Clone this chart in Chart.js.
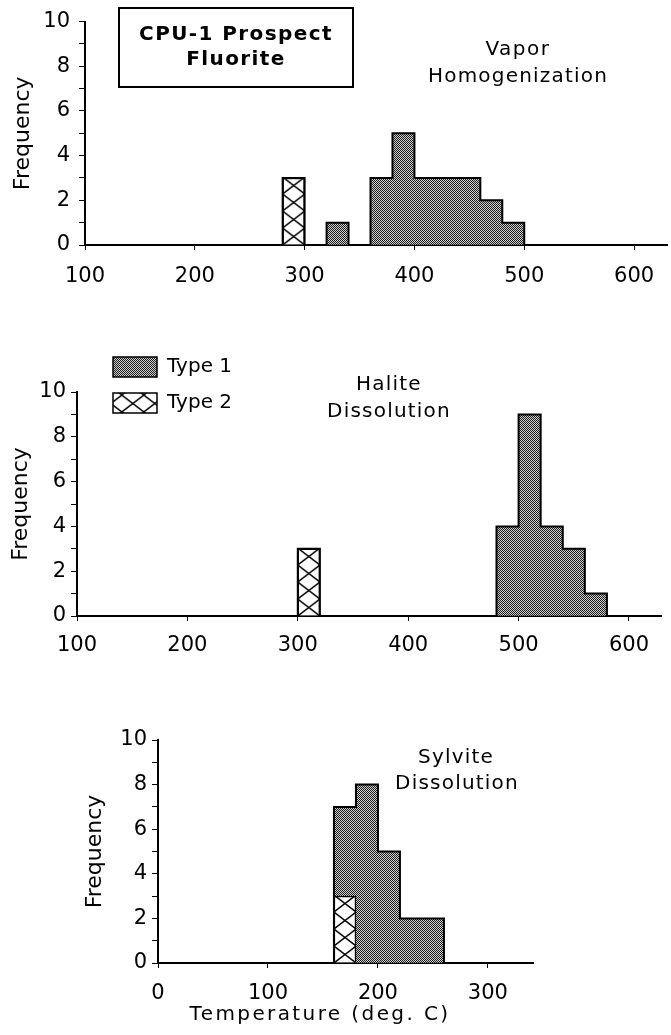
<!DOCTYPE html>
<html><head><meta charset="utf-8">
<script src="https://cdn.jsdelivr.net/npm/chart.js@4.4.1/dist/chart.umd.min.js"></script>
<style>
html,body{margin:0;padding:0;background:#fff;}
#wrap{position:relative;width:671px;height:1035px;overflow:hidden;}
.c{position:absolute;left:0;width:671px;}
</style></head><body>
<div id="wrap">
<div class="c" style="top:0;height:300px"><canvas id="c1" width="671" height="300"></canvas></div>
<div class="c" style="top:300px;height:380px"><canvas id="c2" width="671" height="380"></canvas></div>
<div class="c" style="top:680px;height:355px"><canvas id="c3" width="671" height="355"></canvas></div>
</div>
<script>
// ---------- data ----------
const BIN_WIDTH = 20;
const FREQ_TICK_LABELS = [0, 2, 4, 6, 8, 10];
const SERIES_NAMES = ['Type 1', 'Type 2'];

// Vapor homogenization (bin start temperature, frequency)
const vaporType1Bins = [320, 360, 380, 400, 420, 440, 460, 480];
const vaporType1Freq = [1, 3, 5, 3, 3, 3, 2, 1];
const vaporType2Bins = [280];
const vaporType2Freq = [3];

// Halite dissolution
const haliteType1Bins = [480, 500, 520, 540, 560];
const haliteType1Freq = [4, 9, 4, 3, 1];
const haliteType2Bins = [300];
const haliteType2Freq = [3];

// Sylvite dissolution
const sylviteType1Bins = [160, 180, 200, 220, 240];
const sylviteType1Freq = [4, 8, 5, 2, 2];
const sylviteType2Bins = [160];
const sylviteType2Freq = [3];

// ---------- helpers ----------
Chart.defaults.font.family = "'DejaVu Sans', sans-serif";
Chart.defaults.color = '#000';

function makeStipple(ctx) {
  const c = document.createElement('canvas'); c.width = 4; c.height = 4;
  const g = c.getContext('2d');
  g.fillStyle = '#cfcfcf'; g.fillRect(0, 0, 4, 4);
  g.fillStyle = '#1e1e1e';
  for (let y = 0; y < 4; y++) for (let x = 0; x < 4; x++) if ((x + y) % 2 === 0) g.fillRect(x, y, 1, 1);
  return ctx.createPattern(c, 'repeat');
}
function makeHatch(ctx) {
  const w = 22, h = 17;
  const c = document.createElement('canvas'); c.width = w; c.height = h;
  const g = c.getContext('2d');
  g.fillStyle = '#fff'; g.fillRect(0, 0, w, h);
  g.strokeStyle = '#000'; g.lineWidth = 1.4;
  g.beginPath(); g.moveTo(0, 0); g.lineTo(w, h); g.moveTo(w, 0); g.lineTo(0, h); g.stroke();
  return ctx.createPattern(c, 'repeat');
}
function toPoints(bins, freq) { return bins.map((b, i) => ({ x: b + BIN_WIDTH / 2, y: freq[i] })); }
function totals(binsA, freqA, binsB, freqB) {
  const m = new Map();
  binsA.forEach((b, i) => m.set(b, (m.get(b) || 0) + freqA[i]));
  binsB.forEach((b, i) => m.set(b, (m.get(b) || 0) + freqB[i]));
  return [...m.entries()].sort((a, b) => a[0] - b[0]);
}
function outline(entries) {
  const pts = []; let prevEnd = null, prevH = 0;
  for (const [s, h] of entries) {
    if (prevEnd !== s) {
      if (prevEnd !== null) pts.push({ x: prevEnd, y: prevH }, { x: prevEnd, y: 0 });
      pts.push({ x: s, y: 0 });
    } else {
      pts.push({ x: s, y: prevH });
    }
    pts.push({ x: s, y: h });
    prevEnd = s + BIN_WIDTH; prevH = h;
  }
  pts.push({ x: prevEnd, y: prevH }, { x: prevEnd, y: 0 });
  return pts;
}

const annotationPlugin = {
  id: 'annot',
  afterDraw(chart, args, opts) {
    const ctx = chart.ctx;
    ctx.save();
    (opts.boxes || []).forEach(b => { ctx.lineWidth = 2; ctx.strokeStyle = '#000'; ctx.strokeRect(b.x, b.y, b.w, b.h); });
    (opts.texts || []).forEach(t => {
      ctx.font = t.font; ctx.fillStyle = '#000'; ctx.textAlign = 'center'; ctx.textBaseline = 'alphabetic';
      ctx.letterSpacing = t.ls || '0px';
      ctx.fillText(t.text, t.x, t.y);
    });
    ctx.letterSpacing = '0px';
    ctx.restore();
  }
};
const layoutPlugin = {
  id: 'tweak',
  afterLayout(chart, args, opts) {
    const xs = chart.scales.x, ys = chart.scales.y;
    if (opts.hatch && opts.hatchBin !== undefined) {
      opts.hatch.setTransform(new DOMMatrix([1, 0, 0, 1, xs.getPixelForValue(opts.hatchBin), ys.getPixelForValue(0)]));
    }
    if (opts.legendPos && chart.legend) {
      const l = chart.legend; const w = l.width, h = l.height;
      l.left = opts.legendPos.x; l.top = opts.legendPos.y;
      l.right = l.left + w; l.bottom = l.top + h;
    }
  }
};

function histChart(id, c) {
  const canvas = document.getElementById(id);
  const ctx = canvas.getContext('2d');
  const stipple = makeStipple(ctx), hatch = makeHatch(ctx);
  const env = outline(totals(c.t1Bins, c.t1Freq, c.t2Bins, c.t2Freq));
  return new Chart(ctx, {
    type: 'bar',
    data: {
      datasets: [
        { type: 'bar', label: SERIES_NAMES[0], data: toPoints(c.t1Bins, c.t1Freq), backgroundColor: stipple,
          borderWidth: 0, grouped: false, stack: 'hist', barPercentage: 1, categoryPercentage: 1, order: 1 },
        { type: 'bar', label: SERIES_NAMES[1], data: toPoints(c.t2Bins, c.t2Freq), backgroundColor: hatch,
          borderColor: '#000', borderWidth: 1.5, grouped: false, stack: 'hist', barPercentage: 1, categoryPercentage: 1, order: 0 },
        { type: 'line', label: 'outline', data: env, borderColor: '#000', borderWidth: 2, pointRadius: 0,
          fill: false, tension: 0, order: -1 }
      ]
    },
    options: {
      responsive: false, animation: false, devicePixelRatio: 1,
      layout: { padding: c.pad },
      plugins: {
        tooltip: { enabled: false },
        title: { display: false },
        legend: {
          display: !!c.legend, position: 'chartArea', align: 'start',
          labels: {
            boxWidth: 44, boxHeight: 20, padding: 16, color: '#000',
            font: { size: 20, family: "'DejaVu Sans', sans-serif" },
            generateLabels(chart) {
              const items = Chart.defaults.plugins.legend.labels.generateLabels(chart);
              return items.filter(i => i.datasetIndex < 2).sort((a, b) => a.datasetIndex - b.datasetIndex)
                .map(i => Object.assign(i, { lineWidth: 1.5, strokeStyle: '#000', fontColor: '#000' }));
            }
          }
        },
        annot: { texts: c.texts, boxes: c.boxes || [] },
        tweak: { hatch: hatch, hatchBin: c.t2Bins[0], legendPos: c.legend }
      },
      scales: {
        x: {
          type: 'linear', min: c.xMin, max: c.xMax, offset: false,
          ticks: { stepSize: 100, includeBounds: false, padding: c.xPad, maxRotation: 0, color: '#000',
                   font: { size: 21 } },
          grid: { offset: false, drawOnChartArea: false, drawTicks: true, tickLength: 5, color: '#000' },
          border: { display: true, color: '#000', width: 2 },
          afterFit(s) { s.height = 40; }
        },
        y: {
          min: 0, max: 10,
          ticks: { stepSize: 1, autoSkip: false, padding: c.yPad, color: '#000', font: { size: 21 },
                   callback: v => FREQ_TICK_LABELS.includes(v) ? String(v) : '' },
          grid: { drawOnChartArea: false, drawTicks: true, tickLength: 6, color: '#000' },
          border: { display: true, color: '#000', width: 2 },
          title: { display: true, text: 'Frequency', color: '#000',
                   font: { size: 22, lineHeight: 1.2 }, padding: { top: c.titlePad, bottom: 0 } },
          afterFit(s) { s.width = c.yWidth; }
        }
      }
    },
    plugins: [annotationPlugin, layoutPlugin]
  });
}

histChart('c1', {
  t1Bins: vaporType1Bins, t1Freq: vaporType1Freq, t2Bins: vaporType2Bins, t2Freq: vaporType2Freq,
  xMin: 100, xMax: 630, pad: { left: 0, right: 4, top: 18, bottom: 15 }, yWidth: 85, yPad: 9, xPad: 14, titlePad: 10,
  boxes: [{ x: 119, y: 8, w: 234, h: 79 }],
  texts: [
    { text: 'CPU-1 Prospect', x: 236, y: 40, font: "bold 20px 'DejaVu Sans'", ls: '1.4px' },
    { text: 'Fluorite', x: 236, y: 65, font: "bold 20px 'DejaVu Sans'", ls: '1.4px' },
    { text: 'Vapor', x: 518, y: 55, font: "20px 'DejaVu Sans'", ls: '1.5px' },
    { text: 'Homogenization', x: 518, y: 82, font: "20px 'DejaVu Sans'", ls: '1.2px' }
  ]
});
histChart('c2', {
  t1Bins: haliteType1Bins, t1Freq: haliteType1Freq, t2Bins: haliteType2Bins, t2Freq: haliteType2Freq,
  xMin: 100, xMax: 629, pad: { left: 0, right: 10, top: 92, bottom: 24 }, yWidth: 77, yPad: 5, xPad: 12, titlePad: 8,
  legend: { x: 97, y: 41 },
  texts: [
    { text: 'Halite', x: 389, y: 90, font: "20px 'DejaVu Sans'", ls: '1.2px' },
    { text: 'Dissolution', x: 389, y: 117, font: "20px 'DejaVu Sans'", ls: '1.2px' }
  ]
});
histChart('c3', {
  t1Bins: sylviteType1Bins, t1Freq: sylviteType1Freq, t2Bins: sylviteType2Bins, t2Freq: sylviteType2Freq,
  xMin: 0, xMax: 341, pad: { left: 72, right: 138, top: 60, bottom: 32 }, yWidth: 86, yPad: 5, xPad: 13, titlePad: 10,
  texts: [
    { text: 'Sylvite', x: 456, y: 83, font: "20px 'DejaVu Sans'", ls: '1.2px' },
    { text: 'Dissolution', x: 457, y: 109, font: "20px 'DejaVu Sans'", ls: '1.2px' },
    { text: 'Temperature (deg. C)', x: 320, y: 340, font: "20px 'DejaVu Sans'", ls: '2.4px' }
  ]
});
</script>
</body></html>
